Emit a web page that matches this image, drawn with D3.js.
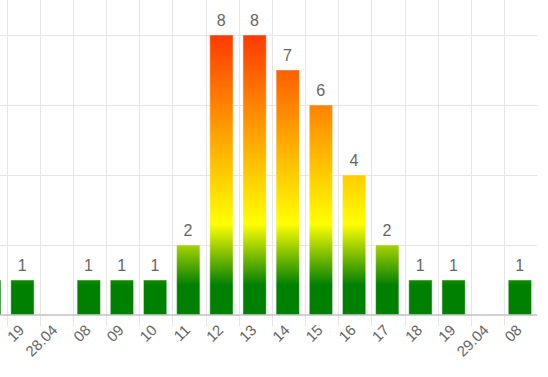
<!DOCTYPE html>
<html>
<head>
<meta charset="utf-8">
<script src="https://cdn.jsdelivr.net/npm/d3@7"></script>
<style>
    body { margin: 0; background: #fff; }
    svg { display: block; font-family: "Liberation Sans", Arial, sans-serif; }
</style>
</head>
<body>
<svg id="chart" width="548" height="377"></svg>
<script>
// hourly counts, the chart is scrolled so the first band is only partly visible
const hourLabels = ["18", "19", "28.04", "08", "09", "10", "11", "12", "13", "14", "15", "16", "17", "18", "19", "29.04", "08"];
const counts = [1, 1, 0, 1, 1, 1, 2, 8, 8, 7, 6, 4, 2, 1, 1, 0, 1];
const yTicks = [0, 2, 4, 6, 8];

const svg = d3.select("#chart");
const layout = { left: -26.5, right: 537.3, top: 0, bottom: 315 };

const idx = hourLabels.map((d, i) => i);

const x = d3.scaleBand()
    .domain( idx )
    .range( [layout.left, layout.right] )
    .paddingInner( 0 )
    .paddingOuter( 0 );

const y = d3.scaleLinear()
    .domain( [0, 9] )
    .range( [layout.bottom, layout.top] );

// gradient runs over the value axis, not per bar
const defs = svg.append("defs");
const grad = defs.append("linearGradient")
    .attr("id", "heat")
    .attr("gradientUnits", "userSpaceOnUse")
    .attr("x1", 0).attr("x2", 0)
    .attr("y1", y(0)).attr("y2", y(8));
const stops = [
    { v: 0, c: "#008000" },
    { v: 0.85, c: "#008000" },
    { v: 2.6, c: "#ffff00" },
    { v: 8, c: "#ff3a00" }
];
grad.selectAll("stop")
    .data(stops)
    .enter().append("stop")
        .attr("offset", d => d.v / 8)
        .attr("stop-color", d => d.c);

// horizontal grid
svg.append("g")
    .selectAll("line")
    .data( yTicks.filter(t => t > 0) )
    .enter().append("line")
        .attr("x1", 0)
        .attr("x2", layout.right)
        .attr("y1", d => Math.round(y(d)) + 0.5)
        .attr("y2", d => Math.round(y(d)) + 0.5)
        .attr("stroke", "#e6e6e6");

// vertical grid / tick marks between categories
svg.append("g")
    .selectAll("line")
    .data( idx )
    .enter().append("line")
        .attr("x1", d => Math.round(x(d)) + 0.5)
        .attr("x2", d => Math.round(x(d)) + 0.5)
        .attr("y1", layout.top)
        .attr("y2", layout.bottom + 11)
        .attr("stroke", "#e6e6e6");

// bars
const barW = 23.3;
svg.append("g")
    .selectAll("rect")
    .data( idx.filter(i => counts[i] > 0) )
    .enter().append("rect")
        .attr("x", i => x(i) + (x.bandwidth() - barW) / 2 - 0.8)
        .attr("y", i => y(counts[i]))
        .attr("width", barW)
        .attr("height", i => y(0) - y(counts[i]))
        .attr("fill", "url(#heat)")
        .attr("stroke", "#fff")
        .attr("stroke-opacity", 0.45)
        .attr("stroke-width", 1);

// axis line
svg.append("line")
    .attr("x1", 0)
    .attr("x2", layout.right)
    .attr("y1", layout.bottom)
    .attr("y2", layout.bottom)
    .attr("stroke", "#c0c0c0")
    .attr("stroke-width", 1.5);

// only texts whose anchor is inside the visible area (the scrolled-off band has none)
const visible = i => x(i) + x.bandwidth() / 2 > 0;

// data labels
svg.append("g")
    .selectAll("text")
    .data( idx.filter(i => counts[i] > 0 && visible(i)) )
    .enter().append("text")
        .attr("x", i => x(i) + x.bandwidth() / 2 - 1)
        .attr("y", i => y(counts[i]) - 9.5)
        .attr("text-anchor", "middle")
        .attr("fill", "#666")
        .style("font-size", "16px")
        .text(i => counts[i]);

// category labels, rotated
svg.append("g")
    .selectAll("text")
    .data( idx.filter(visible) )
    .enter().append("text")
        .attr("text-anchor", "end")
        .attr("fill", "#666")
        .style("font-size", "15px")
        .attr("transform", i => `translate(${x(i) + x.bandwidth() / 2 + 2}, ${layout.bottom + 16}) rotate(-45)`)
        .text(i => hourLabels[i]);
</script>
</body>
</html>
